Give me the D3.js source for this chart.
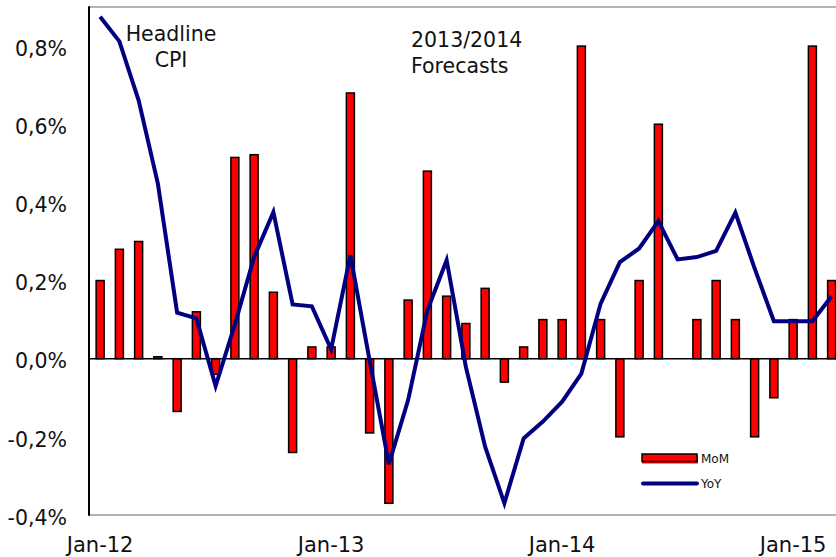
<!DOCTYPE html>
<html>
<head>
<meta charset="utf-8">
<script src="https://cdn.jsdelivr.net/npm/d3@7/dist/d3.min.js"></script>
<style>
  html, body { margin: 0; padding: 0; background: #fff; }
  svg { display: block; font-family: "DejaVu Sans", Verdana, sans-serif; }
</style>
</head>
<body>
<svg id="chart" width="836" height="557"></svg>
<script>
// Monthly headline CPI, Jan-2012 .. Mar-2015 (percent)
const months = [
  "Jan-12","Feb-12","Mar-12","Apr-12","May-12","Jun-12","Jul-12","Aug-12","Sep-12","Oct-12","Nov-12","Dec-12",
  "Jan-13","Feb-13","Mar-13","Apr-13","May-13","Jun-13","Jul-13","Aug-13","Sep-13","Oct-13","Nov-13","Dec-13",
  "Jan-14","Feb-14","Mar-14","Apr-14","May-14","Jun-14","Jul-14","Aug-14","Sep-14","Oct-14","Nov-14","Dec-14",
  "Jan-15","Feb-15","Mar-15"
];

// Month-on-month change (bars); null = no bar
const mom = [
  0.20, 0.28, 0.30, 0.005, -0.135, 0.12, -0.04, 0.515, 0.522, 0.17, -0.24, 0.03,
  0.03, 0.68, -0.19, -0.37, 0.15, 0.48, 0.16, 0.09, 0.18, -0.06, 0.03, 0.10,
  0.10, 0.80, 0.10, -0.20, 0.20, 0.60, null, 0.10, 0.20, 0.10, -0.20, -0.10,
  0.10, 0.80, 0.20
];

// Year-on-year change (line)
const yoy = [
  0.875, 0.812, 0.661, 0.448, 0.118, 0.103, -0.07, 0.088, 0.26, 0.375, 0.139, 0.134,
  0.024, 0.265, -0.005, -0.27, -0.106, 0.124, 0.252, -0.021, -0.225, -0.37, -0.204, -0.161,
  -0.11, -0.038, 0.141, 0.247, 0.282, 0.352, 0.254, 0.26, 0.276, 0.374, 0.231, 0.096,
  0.096, 0.096, 0.16
];

const yTicks = [-0.4, -0.2, 0.0, 0.2, 0.4, 0.6, 0.8];
const xTickLabels = ["Jan-12", "Jan-13", "Jan-14", "Jan-15"];
const seriesNames = ["MoM", "YoY"];

const svg = d3.select("#chart");
const plot = { left: 89, top: 7, bottom: 515 };
const step = 19.25;

const x = d3.scaleBand()
  .domain(months)
  .range([plot.left + 1.5, plot.left + 1.5 + step * months.length])
  .padding(0);

const y = d3.scaleLinear()
  .domain([-0.4, 0.9])
  .range([plot.bottom, plot.top]);

const fmt = v => d3.format(".1f")(v).replace(".", ",").replace("−", "-") + "%";

// frame: top and bottom grey rules, black left axis
svg.append("line")
  .attr("x1", plot.left).attr("x2", 836)
  .attr("y1", plot.top).attr("y2", plot.top)
  .attr("stroke", "#9a9a9a").attr("stroke-width", 1.5);
svg.append("line")
  .attr("x1", plot.left).attr("x2", 836)
  .attr("y1", plot.bottom).attr("y2", plot.bottom)
  .attr("stroke", "#9a9a9a").attr("stroke-width", 1.5);

// y axis labels
const yAxis = d3.axisLeft(y).tickValues(yTicks).tickFormat(fmt).tickSize(0).tickPadding(22);
const gy = svg.append("g").attr("transform", `translate(${plot.left},0)`).call(yAxis);
gy.select(".domain").remove();
gy.selectAll("text")
  .attr("font-size", 20.5)
  .attr("fill", "#111")
  .attr("dy", "0.45em")
  .style("font-family", "'DejaVu Sans', Verdana, sans-serif");

// x axis labels
const xAxis = d3.axisBottom(x).tickValues(xTickLabels).tickSize(0).tickPadding(0);
const gx = svg.append("g").attr("transform", `translate(0,${plot.bottom})`).call(xAxis);
gx.select(".domain").remove();
gx.selectAll("text")
  .attr("font-size", 21)
  .attr("fill", "#111")
  .attr("y", 37)
  .attr("dy", 0)
  .style("font-family", "'DejaVu Sans', Verdana, sans-serif");

// MoM bars
const barW = 8;
const bars = months.map((m, i) => ({ m, v: mom[i] })).filter(d => d.v !== null);
svg.append("g").selectAll("rect")
  .data(bars)
  .join("rect")
  .attr("x", d => x(d.m) + x.bandwidth() / 2 - barW / 2)
  .attr("y", d => Math.min(y(d.v), y(0)))
  .attr("width", barW)
  .attr("height", d => Math.abs(y(d.v) - y(0)))
  .attr("fill", "#ff0000")
  .attr("stroke", "#000")
  .attr("stroke-width", 1.5);

// zero line
svg.append("line")
  .attr("x1", plot.left).attr("x2", 836)
  .attr("y1", y(0)).attr("y2", y(0))
  .attr("stroke", "#000").attr("stroke-width", 1.5);

// left axis line
svg.append("line")
  .attr("x1", plot.left).attr("x2", plot.left)
  .attr("y1", plot.top - 0.75).attr("y2", plot.bottom + 0.75)
  .attr("stroke", "#000").attr("stroke-width", 2);

// YoY line
const line = d3.line()
  .x((d, i) => x(months[i]) + x.bandwidth() / 2)
  .y(d => y(d));
svg.append("path")
  .datum(yoy)
  .attr("d", line)
  .attr("fill", "none")
  .attr("stroke", "#000080")
  .attr("stroke-width", 4)
  .attr("stroke-linejoin", "miter");

// annotations
const ann = svg.append("g")
  .attr("font-size", 20.5)
  .attr("fill", "#111");
ann.append("text").attr("x", 171).attr("y", 40.5).attr("text-anchor", "middle").text("Headline");
ann.append("text").attr("x", 171).attr("y", 67).attr("text-anchor", "middle").text("CPI");
ann.append("text").attr("x", 411).attr("y", 46.5).text("2013/2014");
ann.append("text").attr("x", 411).attr("y", 72.5).text("Forecasts");

// legend
const lg = svg.append("g");
lg.append("rect")
  .attr("x", 642).attr("y", 455).attr("width", 56).attr("height", 8.5)
  .attr("fill", "#ff0000");
lg.append("rect")
  .attr("x", 642).attr("y", 454).attr("width", 55).attr("height", 7.5)
  .attr("fill", "#ff0000").attr("stroke", "#000").attr("stroke-width", 1.5);
lg.append("line")
  .attr("x1", 643).attr("x2", 697).attr("y1", 483.5).attr("y2", 483.5)
  .attr("stroke", "#000080").attr("stroke-width", 4).attr("stroke-linecap", "round");
lg.append("text").attr("x", 701).attr("y", 463).attr("font-size", 12).attr("fill", "#111").text(seriesNames[0]);
lg.append("text").attr("x", 701).attr("y", 488).attr("font-size", 12).attr("fill", "#111").text(seriesNames[1]);
</script>
</body>
</html>
